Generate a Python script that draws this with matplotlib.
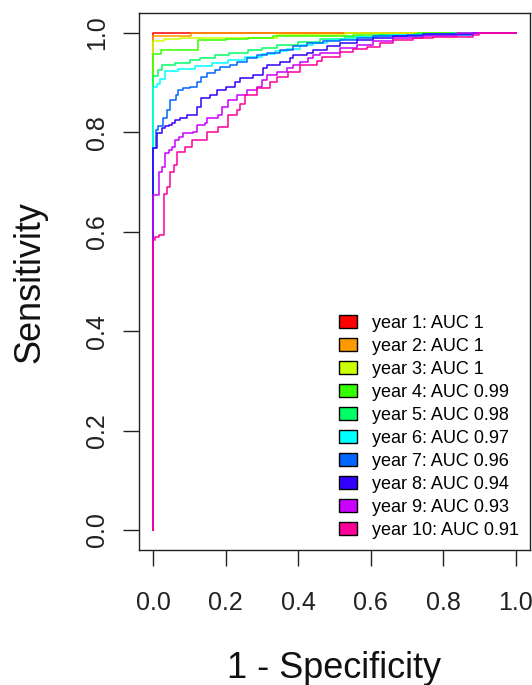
import matplotlib
matplotlib.use("Agg")
import matplotlib.pyplot as plt
from matplotlib.patches import Patch

plt.rcParams["font.family"] = ["Liberation Sans", "DejaVu Sans"]

# ROC curve vertices per year: false positive rate (1 - specificity) and sensitivity
fpr_y1 = [0.0, 0.0, 1.0]
tpr_y1 = [0.0, 1.0, 1.0]

fpr_y2 = [0.0, 0.0, 0.105, 1.0]
tpr_y2 = [0.0, 0.993, 1.0, 1.0]

fpr_y3 = [0.0, 0.0, 0.03, 0.075, 0.34, 0.53, 1.0]
tpr_y3 = [0.0, 0.984, 0.988, 0.99, 0.995, 1.0, 1.0]

fpr_y4 = [0.0, 0.0, 0.02, 0.124, 0.2, 0.26, 0.33, 0.55, 0.73, 1.0]
tpr_y4 = [0.0, 0.958, 0.966, 0.985, 0.987, 0.99, 0.993, 0.996, 1.0, 1.0]

fpr_y5 = [0.0, 0.0, 0.012, 0.025, 0.06, 0.1, 0.13, 0.17, 0.21, 0.26, 0.3,
          0.34, 0.4, 0.46, 0.53, 0.62, 0.72, 0.82, 1.0]
tpr_y5 = [0.0, 0.914, 0.925, 0.935, 0.94, 0.945, 0.95, 0.955, 0.96, 0.965, 0.97,
          0.976, 0.982, 0.988, 0.992, 0.995, 0.998, 1.0, 1.0]

fpr_y6 = [0.0, 0.0, 0.009, 0.018, 0.032, 0.069, 0.115, 0.161, 0.207, 0.253, 0.299,
          0.336, 0.37, 0.405, 0.44, 0.478, 0.52, 0.561, 0.61, 0.653, 0.75, 0.883, 1.0]
tpr_y6 = [0.0, 0.891, 0.897, 0.908, 0.924, 0.928, 0.934, 0.94, 0.946, 0.951, 0.958,
          0.963, 0.968, 0.975, 0.98, 0.985, 0.988, 0.991, 0.994, 0.996, 0.998, 1.0, 1.0]

fpr_y7 = [0.0, 0.0, 0.008, 0.014, 0.028, 0.037, 0.046, 0.064, 0.069, 0.083, 0.101,
          0.12, 0.133, 0.147, 0.17, 0.184, 0.212, 0.23, 0.258, 0.285, 0.313, 0.35,
          0.386, 0.423, 0.469, 0.515, 0.561, 0.607, 0.699, 0.883, 1.0]
tpr_y7 = [0.0, 0.768, 0.805, 0.812, 0.828, 0.845, 0.865, 0.875, 0.885, 0.889, 0.892,
          0.902, 0.912, 0.919, 0.926, 0.932, 0.936, 0.942, 0.949, 0.956, 0.959, 0.966,
          0.973, 0.979, 0.983, 0.986, 0.989, 0.993, 0.996, 1.0, 1.0]

fpr_y8 = [0.0, 0.0, 0.01, 0.024, 0.033, 0.042, 0.052, 0.061, 0.075, 0.093, 0.121,
          0.133, 0.156, 0.175, 0.202, 0.225, 0.239, 0.276, 0.304, 0.313, 0.35, 0.377,
          0.386, 0.423, 0.442, 0.478, 0.515, 0.561, 0.607, 0.662, 0.745, 0.883, 1.0]
tpr_y8 = [0.0, 0.768, 0.798, 0.808, 0.812, 0.815, 0.818, 0.825, 0.828, 0.835, 0.852,
          0.869, 0.875, 0.885, 0.891, 0.902, 0.909, 0.916, 0.929, 0.936, 0.942, 0.949,
          0.956, 0.959, 0.966, 0.973, 0.979, 0.986, 0.989, 0.993, 0.997, 1.0, 1.0]

fpr_y9 = [0.0, 0.0, 0.015, 0.024, 0.033, 0.042, 0.052, 0.061, 0.07, 0.083, 0.11,
          0.12, 0.143, 0.147, 0.179, 0.189, 0.207, 0.23, 0.258, 0.285, 0.299, 0.313,
          0.34, 0.368, 0.386, 0.405, 0.428, 0.442, 0.46, 0.515, 0.561, 0.607, 0.662,
          0.745, 0.837, 0.883, 1.0]
tpr_y9 = [0.0, 0.674, 0.721, 0.731, 0.758, 0.765, 0.771, 0.785, 0.791, 0.798, 0.801,
          0.815, 0.818, 0.828, 0.835, 0.852, 0.865, 0.875, 0.885, 0.892, 0.905, 0.916,
          0.922, 0.929, 0.936, 0.942, 0.949, 0.956, 0.959, 0.969, 0.976, 0.983, 0.989,
          0.994, 0.999, 1.0, 1.0]

fpr_y10 = [0.0, 0.0, 0.006, 0.015, 0.029, 0.038, 0.047, 0.056, 0.065, 0.088, 0.107,
           0.148, 0.179, 0.207, 0.23, 0.239, 0.253, 0.285, 0.322, 0.34, 0.373, 0.405,
           0.451, 0.465, 0.515, 0.552, 0.589, 0.626, 0.662, 0.718, 0.773, 0.883, 0.9, 1.0]
tpr_y10 = [0.0, 0.583, 0.59, 0.593, 0.677, 0.691, 0.721, 0.734, 0.761, 0.771, 0.785,
           0.801, 0.811, 0.835, 0.845, 0.858, 0.875, 0.889, 0.902, 0.912, 0.922, 0.935,
           0.944, 0.952, 0.962, 0.967, 0.972, 0.979, 0.986, 0.989, 0.992, 0.996, 1.0, 1.0]

years = [1, 2, 3, 4, 5, 6, 7, 8, 9, 10]
auc_values = ["1", "1", "1", "0.99", "0.98", "0.97", "0.96", "0.94", "0.93", "0.91"]
colors = ["#FF0000", "#FF9900", "#CCFF00", "#33FF00", "#00FF66",
          "#00FFFF", "#0066FF", "#3300FF", "#CC00FF", "#FF0099"]
tick_values = [0.0, 0.2, 0.4, 0.6, 0.8, 1.0]

fpr_all = [fpr_y1, fpr_y2, fpr_y3, fpr_y4, fpr_y5, fpr_y6, fpr_y7, fpr_y8, fpr_y9, fpr_y10]
tpr_all = [tpr_y1, tpr_y2, tpr_y3, tpr_y4, tpr_y5, tpr_y6, tpr_y7, tpr_y8, tpr_y9, tpr_y10]

fig = plt.figure(figsize=(5.32, 6.85), dpi=100)
ax = fig.add_axes([0.2609, 0.1972, 0.7357, 0.7837])

for fx, ty, col in zip(fpr_all, tpr_all, colors):
    ax.step(fx, ty, where="post", color=col, lw=1.1)

ax.set_xlim(-0.04, 1.04)
ax.set_ylim(-0.04, 1.04)
ax.set_xticks(tick_values)
ax.set_yticks(tick_values)
ax.set_xticklabels([f"{v:.1f}" for v in tick_values])
ax.set_yticklabels([f"{v:.1f}" for v in tick_values], rotation=90, va="center")

for s in ax.spines.values():
    s.set_linewidth(1.0)
    s.set_color("#222222")
ax.tick_params(axis="both", direction="out", length=11.3, width=1.0,
               color="#222222", labelsize=18, labelcolor="#222222")
ax.tick_params(axis="x", pad=18)
ax.tick_params(axis="y", pad=10)

ax.set_xlabel("1 - Specificity", fontsize=26, color="#111111")
ax.set_ylabel("Sensitivity", fontsize=26, color="#111111")
ax.xaxis.set_label_coords(0.5, -0.188)
ax.yaxis.set_label_coords(-0.233, 0.5)

handles = [Patch(facecolor=c, edgecolor="black", linewidth=1.0) for c in colors]
labels = [f"year {y}: AUC {a}" for y, a in zip(years, auc_values)]
ax.legend(handles, labels, loc="upper left", bbox_to_anchor=(339 / 532, 1 - 315 / 685),
          bbox_transform=fig.transFigure, frameon=False, fontsize=13,
          handlelength=1.0, handleheight=0.7, handletextpad=0.85,
          labelspacing=0.33, borderpad=0, borderaxespad=0)

fig.savefig("out.png", dpi=100)
